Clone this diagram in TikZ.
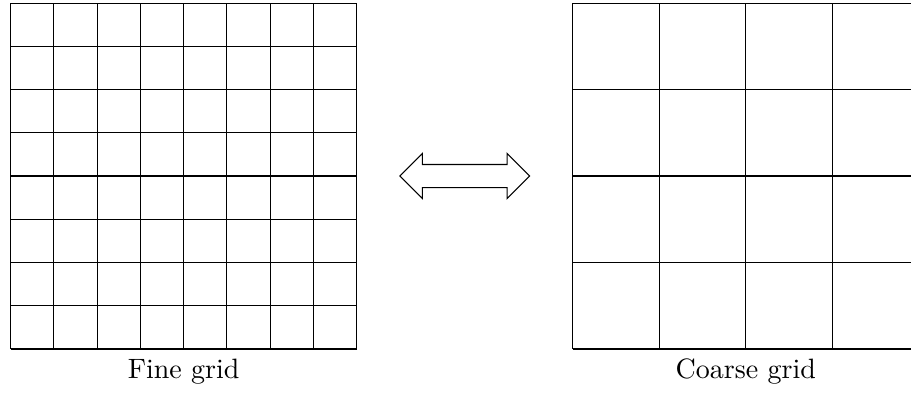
\documentclass[tikz,border=0pt]{standalone}
\usepackage{tikz}
\usetikzlibrary{shapes.arrows, positioning}

\begin{document}
\begin{tikzpicture}[x=0.57cm, y=0.57cm,
        caption/.style={anchor=base, font=\fontsize{10.5}{12}\selectfont},
        swap/.style={draw, double arrow, double arrow head extend=0.145cm,
            inner sep=0.145cm, minimum height=1.71cm}
    ]
    \useasboundingbox (-0.247,-1.04) rectangle (20.82,8.07);
    % fine grid
    \draw[step=1] (0,0) grid (8,8);
    \node[caption] (fine) at (4,-0.69) {Fine grid};
    % coarse grid, cut at the right edge
    \begin{scope}
        \clip (12.9,-0.1) rectangle (20.82,8.1);
        \begin{scope}[shift={(13,0)}]
            \draw[step=2] (0,0) grid (8,8);
        \end{scope}
    \end{scope}
    \node[caption] (coarse) at (17,-0.69) {Coarse grid};
    % arrow between them
    \node[swap] (arr) at (10.5,4) {};
\end{tikzpicture}
\end{document}
